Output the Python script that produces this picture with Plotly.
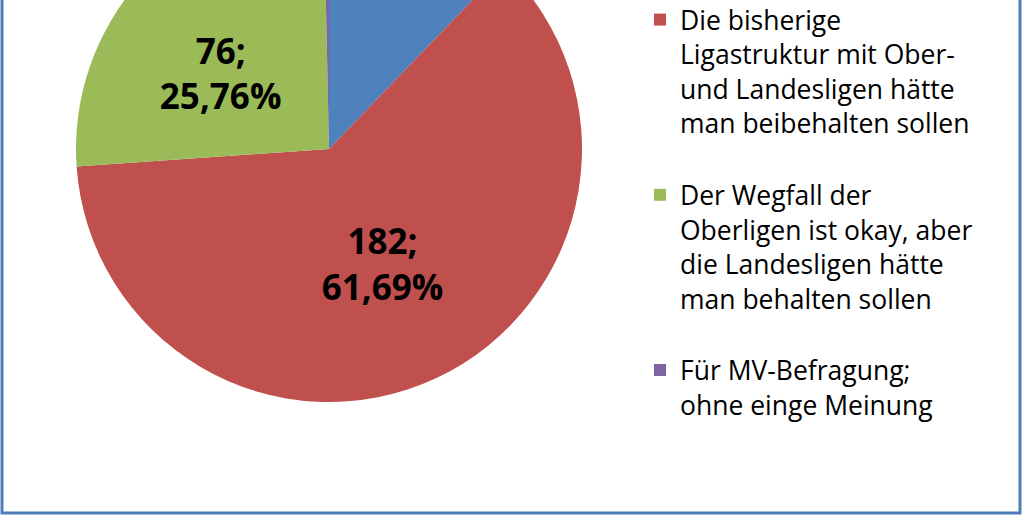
import plotly.graph_objects as go

# ---- data ----
labels = [
    "Die neue Ligastruktur<br>ist gut so",
    "Die bisherige<br>Ligastruktur mit Ober-<br>und Landesligen hätte<br>man beibehalten sollen",
    "Der Wegfall der<br>Oberligen ist okay, aber<br>die Landesligen hätte<br>man behalten sollen",
    "Für MV-Befragung;<br>ohne einge Meinung",
]
values = [36, 182, 76, 1]
colors = ["#4F81BD", "#C0504D", "#9BBB59", "#8064A2"]
# the labels of the blue and purple slices lie outside the visible (cropped) area
show_label = [False, True, True, False]

# ---- layout geometry (the original chart is cropped at the top) ----
W, VIEW_H, HIDDEN = 1024, 517, 130
H = VIEW_H + HIDDEN


def py(px):  # pixel (from top of full figure) -> paper y
    return 1 - px / H


pie_left, pie_right = 76, 582
pie_top, pie_bottom = HIDDEN - 104, HIDDEN + 402

legend_labels = [l + "<br>&nbsp;" if i < len(labels) - 1 else l for i, l in enumerate(labels)]
base_tpl = "%{value};<br>%{percent:.2%}"
templates = [base_tpl if s else "" for s in show_label]
templates[2] = "&nbsp;<br>" + base_tpl  # sit the green label a little lower, as in the original

fig = go.Figure(
    go.Pie(
        labels=legend_labels,
        values=values,
        sort=False,
        direction="clockwise",
        rotation=0,
        marker=dict(colors=colors, line=dict(width=0)),
        texttemplate=templates,
        textposition="inside",
        insidetextorientation="horizontal",
        insidetextfont=dict(family="Open Sans", size=35, color="#000000", weight="bold"),
        domain=dict(x=[pie_left / W, pie_right / W], y=[py(pie_bottom), py(pie_top)]),
        hoverinfo="label+value+percent",
    )
)

fig.update_layout(
    width=W,
    height=H,
    margin=dict(l=0, r=0, t=0, b=0),
    paper_bgcolor="#FFFFFF",
    plot_bgcolor="#FFFFFF",
    separators=",.",
    showlegend=True,
    legend=dict(
        x=640 / W,
        xanchor="left",
        y=py(19.5),
        yanchor="top",
        valign="top",
        font=dict(family="Open Sans", size=26.5, color="#000000"),
        bgcolor="rgba(0,0,0,0)",
        itemclick=False,
        itemdoubleclick=False,
    ),
    shapes=[
        dict(
            type="rect", xref="paper", yref="paper",
            x0=2 / W, x1=1020 / W, y0=py(HIDDEN + 513), y1=py(2),
            line=dict(color="#4F7DBA", width=3), fillcolor="rgba(0,0,0,0)",
        )
    ],
)

post = (
    "var gd=document.getElementById('{plot_id}');"
    "gd.style.marginTop='-%dpx';"
    "document.body.style.margin='0';"
    "document.body.style.overflow='hidden';" % HIDDEN
)

fig.write_html("out.html", config={"displayModeBar": False}, post_script=post)
